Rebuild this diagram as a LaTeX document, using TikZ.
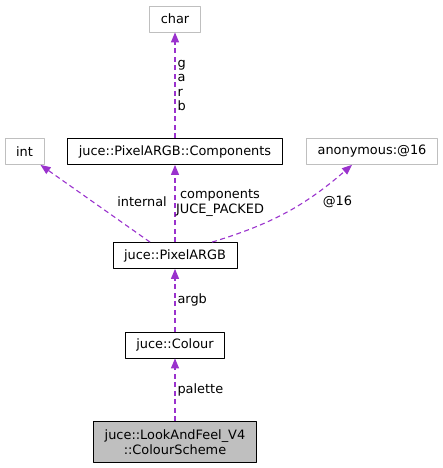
\documentclass[tikz,border=0pt]{standalone}
\usepackage{fontspec}
\setmainfont{DejaVu Sans}
\usetikzlibrary{arrows.meta}
\definecolor{extgrey}{HTML}{BFBFBF}
\definecolor{relpurple}{HTML}{9A32CD}
\begin{document}
\begin{tikzpicture}[x=1pt, y=-1pt, font=\fontsize{12.9}{14.5}\selectfont, line join=round,
		>={Triangle[length=10pt,width=8pt]},
		cls/.style={draw=black, line width=0.8pt, inner xsep=11pt, inner ysep=0pt, minimum height=26pt},
		ext/.style={cls, draw=extgrey},
		rel/.style={->, color=relpurple, line width=1.1pt, dash pattern=on 5pt off 3.5pt},
		lbl/.style={inner sep=2pt, text=black}]
			\useasboundingbox (0,0) rectangle (443,468);
			\def\xc{175}
			% classes
			\node[ext] (char) at (\xc,19) {char};
			\node[ext] (int) at (24.5,151.5) {int};
			\node[cls] (components) at (\xc,151.5) {juce::PixelARGB::Components};
			\node[ext] (anon) at (372,151.5) {anonymous:@16};
			\node[cls] (pixel) at (\xc,255.5) {juce::PixelARGB};
			\node[cls] (colour) at (\xc,345) {juce::Colour};
			\node[cls, fill=extgrey, align=center, minimum height=41pt] (scheme) at (\xc,442) {juce::LookAndFeel\_V4\\::ColourScheme};
			% relations
			\draw[rel] (components.north) -- node[lbl, right, align=left] (lgarb) {g\\a\\r\\b} (char.south);
			\draw[rel] ([xshift=-25pt]pixel.north) -- ([xshift=16pt]int.south);
			\draw[rel] (pixel.north) -- (components.south);
			\draw[rel] ([xshift=37pt]pixel.north) to[bend right=12] ([xshift=-20pt]anon.south);
			\draw[rel] (colour.north) -- node[lbl, right] (largb) {argb} (pixel.south);
			\draw[rel] (scheme.north) -- node[lbl, right] (lpalette) {palette} (colour.south);
			\node[lbl, anchor=east] (linternal) at (169,202) {internal};
			\node[lbl, align=center] (lcomp) at (220,203) {components\\JUCE\_PACKED};
			\node[lbl] (lat) at (337.5,202) {@16};
		\end{tikzpicture}
\end{document}
